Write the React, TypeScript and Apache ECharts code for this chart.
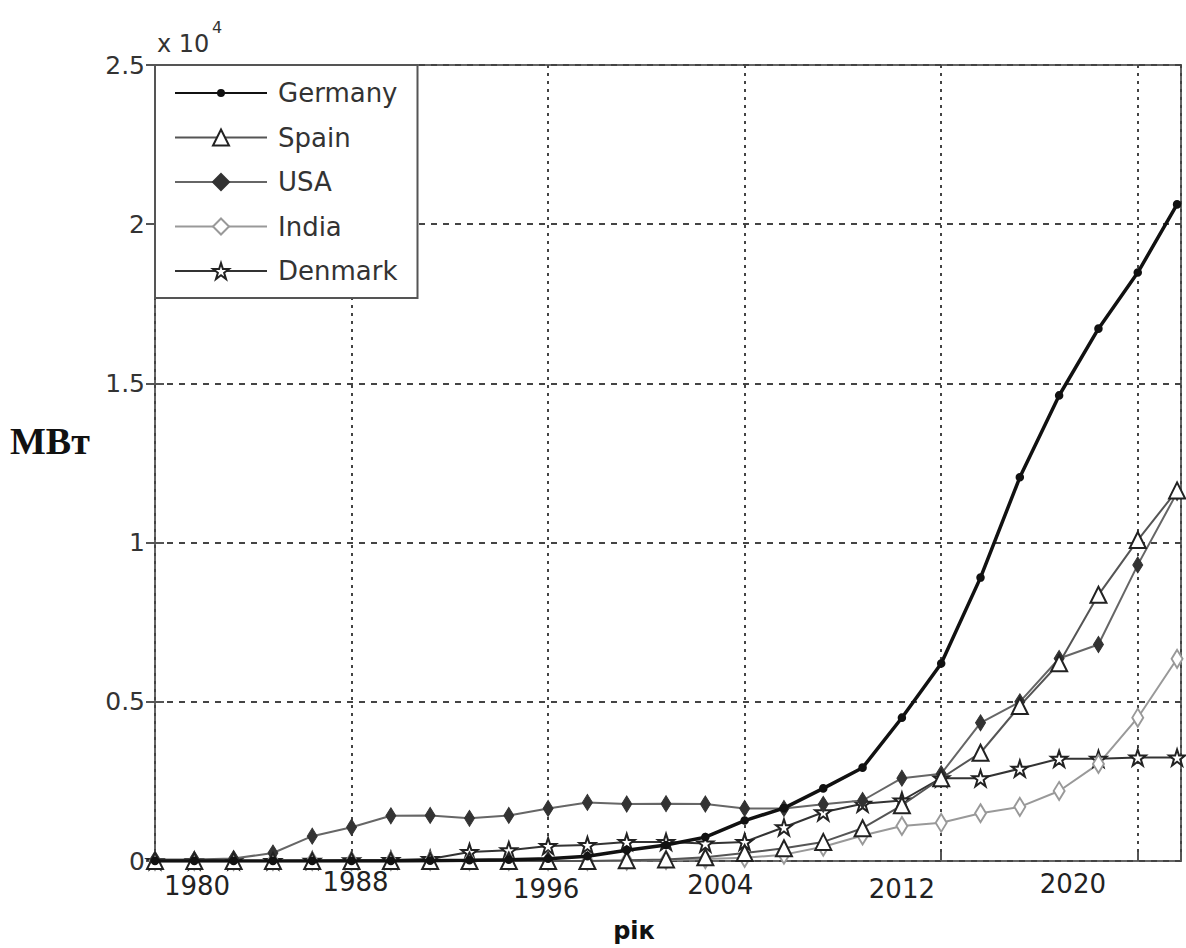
import React, { useEffect, useRef } from 'react';
import * as echarts from 'echarts';

// point index 0..26 along the horizontal axis
const seriesNames = ['Germany', 'Spain', 'USA', 'India', 'Denmark'];
const germany = [0, 0, 0, 0, 0, 0, 0, 10, 20, 40, 70, 150, 340, 500, 750, 1270, 1660, 2280, 2930, 4500, 6200, 8900, 12050, 14620, 16720, 18480, 20620];
const spain = [0, 0, 0, 0, 0, 0, 0, 0, 0, 0, 0, 0, 20, 50, 120, 250, 400, 600, 1030, 1750, 2600, 3400, 4870, 6210, 8360, 10080, 11640];
const usa = [50, 50, 80, 250, 780, 1060, 1420, 1430, 1340, 1430, 1650, 1840, 1790, 1800, 1790, 1650, 1650, 1780, 1900, 2600, 2740, 4340, 5000, 6360, 6800, 9300, 11570];
const india = [0, 0, 0, 0, 0, 0, 0, 0, 0, 0, 0, 0, 10, 30, 60, 100, 200, 450, 800, 1100, 1200, 1500, 1700, 2200, 3050, 4500, 6350];
const denmark = [0, 0, 0, 0, 10, 20, 30, 60, 280, 340, 470, 500, 600, 600, 550, 600, 1060, 1530, 1800, 1900, 2600, 2600, 2900, 3210, 3210, 3250, 3250];

// x tick labels and where they sit on the point-index scale
const xTickLabels = ['1980', '1988', '1996', '2004', '2012', '2020'];
const xTickAt = [1.07, 5.1, 9.95, 14.38, 19.0, 23.35];

const FONT = 'DejaVu Sans';
const STAR = 'path://M50,5 L61,38 L96,38 L68,59 L79,93 L50,72 L21,93 L32,59 L4,38 L39,38 Z';
// small dot centred in a 100x100 box (keeps the legend dot small too)
const DOT = 'path://M0,0 L0.1,0 M100,100 L100.1,100 M25,50 A25,25 0 1 1 75,50 A25,25 0 1 1 25,50 Z';

const toPairs = (arr: number[]) => arr.map((v, i) => [i, v]);

export default function App() {
  const ref = useRef<HTMLDivElement>(null);
  useEffect(() => {
    if (!ref.current) return;
    const chart = echarts.init(ref.current, undefined, { renderer: 'svg' });
    const xMax = 26.1;
    const lab = (top: number) => ({ fontSize: 26, color: '#222', fontFamily: FONT, padding: [top, 0, 0, 0] });
    chart.setOption({
      animation: false,
      backgroundColor: '#fff',
      textStyle: { fontFamily: FONT },
      grid: { left: 155, right: 5, top: 65, bottom: 82, show: true, borderColor: '#666', borderWidth: 2, backgroundColor: 'transparent' },
      legend: {
        data: seriesNames,
        orient: 'vertical',
        left: 155,
        top: 65,
        backgroundColor: '#fff',
        borderColor: '#555',
        borderWidth: 2,
        padding: [15, 20, 14, 19],
        itemGap: 18.5,
        itemWidth: 92,
        itemHeight: 20,
        textStyle: { fontSize: 26, fontFamily: FONT, color: '#333', lineHeight: 26, padding: [0, 0, 0, 6] },
      },
      xAxis: [
        {
          type: 'value',
          min: 0,
          max: xMax,
          interval: 5,
          axisLine: { show: false },
          axisTick: { show: true, inside: true, length: 9, lineStyle: { color: '#555', width: 2 } },
          axisLabel: { show: false },
          splitLine: { show: true, lineStyle: { color: '#444', width: 2, type: [3, 5] } },
        },
        {
          type: 'value',
          min: 0,
          max: xMax,
          position: 'bottom',
          axisLine: { show: false },
          axisTick: { show: false },
          splitLine: { show: false },
          axisLabel: {
            customValues: xTickAt,
            margin: 8,
            fontSize: 26,
            color: '#222',
            fontFamily: FONT,
            formatter: (v: number) => {
              let best = 0;
              for (let k = 1; k < xTickAt.length; k++) {
                if (Math.abs(xTickAt[k] - v) < Math.abs(xTickAt[best] - v)) best = k;
              }
              return '{t' + best + '|' + xTickLabels[best] + '}';
            },
            rich: { t0: lab(4), t1: lab(0), t2: lab(7), t3: lab(3), t4: lab(7), t5: lab(2) },
          },
          name: 'рік',
          nameLocation: 'middle',
          nameGap: 58,
          nameTextStyle: { fontSize: 24, fontWeight: 'bold', color: '#111', fontFamily: FONT, padding: [0, 68, 0, 0] },
        },
      ],
      yAxis: [
        {
          type: 'value',
          min: 0,
          max: 25000,
          interval: 5000,
          axisLine: { show: false },
          axisTick: { show: true, inside: true, length: 9, lineStyle: { color: '#555', width: 2 } },
          axisLabel: {
            margin: 10,
            fontSize: 25,
            color: '#333',
            fontFamily: FONT,
            formatter: (v: number) => String(v / 10000),
          },
          splitLine: { show: true, lineStyle: { color: '#444', width: 2, type: [6, 6] } },
        },
        {
          type: 'value',
          min: 0,
          max: 25000,
          interval: 5000,
          position: 'right',
          axisLine: { show: false },
          axisTick: { show: true, inside: true, length: 9, lineStyle: { color: '#555', width: 2 } },
          axisLabel: { show: false },
          splitLine: { show: false },
        },
      ],
      graphic: [
        { type: 'text', left: 10, top: 422, style: { text: 'МВт', fontSize: 38, fontWeight: 'bold', fontFamily: 'Liberation Serif', fill: '#111' } },
        { type: 'text', left: 157, top: 32, style: { text: 'x 10', fontSize: 24, fill: '#333', fontFamily: FONT } },
        { type: 'text', left: 212, top: 19, style: { text: '4', fontSize: 16, fill: '#333', fontFamily: FONT } },
      ],
      series: [
        {
          name: 'Denmark', type: 'line', data: toPairs(denmark), z: 3,
          symbol: STAR, symbolSize: 16, showAllSymbol: true,
          lineStyle: { color: '#333', width: 2 },
          itemStyle: { color: '#fff', borderColor: '#222', borderWidth: 2 },
        },
        {
          name: 'India', type: 'line', data: toPairs(india), z: 3,
          symbol: 'diamond', symbolSize: [11, 18], showAllSymbol: true,
          lineStyle: { color: '#999', width: 2 },
          itemStyle: { color: '#fff', borderColor: '#999', borderWidth: 2 },
        },
        {
          name: 'USA', type: 'line', data: toPairs(usa), z: 4,
          symbol: 'diamond', symbolSize: [10, 16], showAllSymbol: true,
          lineStyle: { color: '#666', width: 2 },
          itemStyle: { color: '#333', borderColor: '#333', borderWidth: 1 },
        },
        {
          name: 'Spain', type: 'line', data: toPairs(spain), z: 4,
          symbol: 'triangle', symbolSize: 16, showAllSymbol: true,
          lineStyle: { color: '#555', width: 2 },
          itemStyle: { color: '#fff', borderColor: '#222', borderWidth: 2 },
        },
        {
          name: 'Germany', type: 'line', data: toPairs(germany), z: 5,
          symbol: DOT, symbolSize: 17, showAllSymbol: true,
          lineStyle: { color: '#111', width: 3.5 },
          itemStyle: { color: '#111', borderWidth: 0 },
        },
      ],
    });
    return () => chart.dispose();
  }, []);
  return <div ref={ref} style={{ position: 'fixed', left: 0, top: 0, width: 1186, height: 948, background: '#fff' }} />;
}
